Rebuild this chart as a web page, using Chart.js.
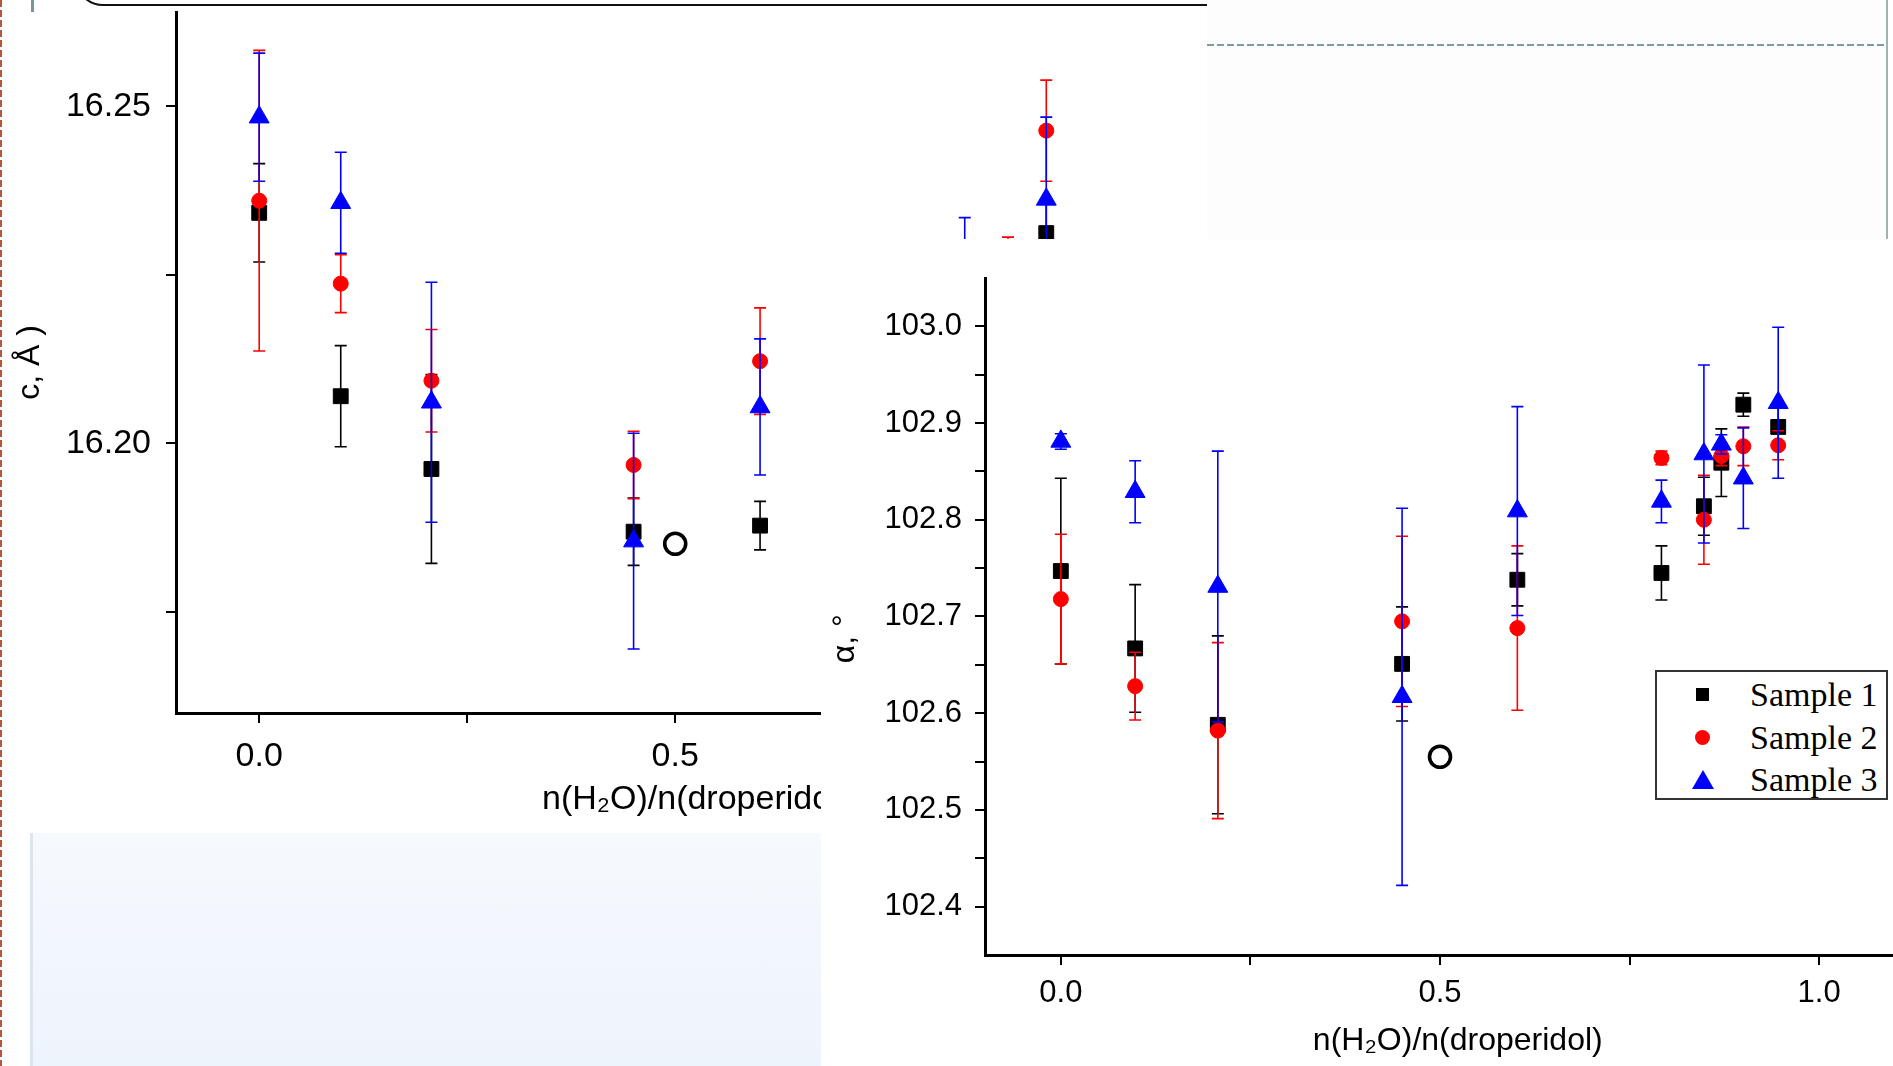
<!DOCTYPE html>
<html>
<head>
<meta charset="utf-8">
<title>c and alpha vs n(H2O)/n(droperidol)</title>
<script src="https://cdn.jsdelivr.net/npm/chart.js@4.4.1/dist/chart.umd.min.js"></script>
<style>
  html, body { margin: 0; padding: 0; width: 1893px; height: 1066px; overflow: hidden; background: #fff; }
  .abs { position: absolute; }
  #leftChart { left: 0; top: 0; }
  #rightChart { left: 821px; top: 239px; background: #fff; }
  #leftEdge { left: 0; top: 0; width: 2px; height: 1066px;
    background: repeating-linear-gradient(to bottom, #b5553b 0 7px, transparent 7px 10px); }
  #topFrame { left: 75px; top: -60px; width: 1766px; height: 62px;
    border: 2.5px solid #111; border-radius: 28px; background: #fff; }
  #topTick { left: 31px; top: 0; width: 3px; height: 12px; background: #7a9595; }
  #greyPanel { left: 1207px; top: 0; width: 680px; height: 239px; background: #fdfdfd; }
  #greyDash { left: 1207px; top: 44px; width: 680px; height: 2px;
    background: repeating-linear-gradient(to right, #7f9c9c 0 7px, transparent 7px 10px); }
  #greyRule { left: 1886px; top: 0; width: 2px; height: 240px; background: #9fb3b3; }
  #bluePanel { left: 30px; top: 833px; width: 791px; height: 233px;
    background: linear-gradient(#f6f9fe, #eef4fc); border-left: 3px solid #dde5ee; }
  #legend { left: 1655px; top: 670px; width: 229px; height: 126px; border: 2px solid #333; background: #fff;
    font-family: 'Liberation Serif', 'Times New Roman', serif; font-size: 34px; color: #000; }
  #legend .row { position: absolute; left: 0; height: 40px; line-height: 40px; }
  #legend .txt { position: absolute; left: 93px; white-space: nowrap; }
  #legend .mk { position: absolute; }
</style>
</head>
<body>
<div id="leftEdge" class="abs"></div>
<canvas id="leftChart" class="abs" width="1216" height="833"></canvas>
<div id="topFrame" class="abs"></div>
<div id="topTick" class="abs"></div>
<div id="greyPanel" class="abs"></div>
<div id="greyDash" class="abs"></div>
<div id="greyRule" class="abs"></div>
<div id="bluePanel" class="abs"></div>
<canvas id="rightChart" class="abs" width="1074" height="827"></canvas>
<div id="legend" class="abs"></div>

<script>
// x values: n(H2O)/n(droperidol)
const ratio = [0, 0.098, 0.207, 0.45, 0.602, 0.792, 0.848, 0.871, 0.9, 0.946];
const seriesNames = ['Sample 1', 'Sample 2', 'Sample 3'];
const seriesColors = ['#000000', '#ff0000', '#0000ff'];

// left panel: c, Å
const cSample1 = [16.2342, 16.2070, 16.1962, 16.1869, 16.1878, 16.212, 16.216, 16.219, 16.222, 16.2312];
const cSample1Err = [0.0073, 0.0075, 0.0140, 0.0050, 0.0036, 0.005, 0.005, 0.005, 0.004, 0.0046];
const cSample2 = [16.2360, 16.2237, 16.2093, 16.1968, 16.2122, 16.214, 16.216, 16.220, 16.222, 16.2464];
const cSample2Err = [0.0223, 0.0043, 0.0076, 0.0050, 0.0079, 0.004, 0.006, 0.005, 0.0086, 0.0075];
const cSample3 = [16.2484, 16.2357, 16.2061, 16.1855, 16.2054, 16.210, 16.222, 16.218, 16.215, 16.2362];
const cSample3Err = [0.0095, 0.0075, 0.0178, 0.0160, 0.0101, 0.008, 0.0115, 0.007, 0.010, 0.0122];
const cOpenX = [0.5];
const cOpenY = [16.1851];

// right panel: alpha, degrees
const aSample1 = [102.747, 102.667, 102.588, 102.651, 102.738, 102.745, 102.814, 102.859, 102.919, 102.896];
const aSample1Err = [0.096, 0.066, 0.092, 0.059, 0.027, 0.028, 0.030, 0.035, 0.012, 0.020];
const aSample2 = [102.718, 102.628, 102.582, 102.695, 102.688, 102.864, 102.800, 102.866, 102.876, 102.877];
const aSample2Err = [0.067, 0.035, 0.091, 0.088, 0.085, 0.007, 0.046, 0.010, 0.020, 0.015];
const aSample3 = [102.881, 102.829, 102.731, 102.617, 102.809, 102.819, 102.868, 102.878, 102.843, 102.921];
const aSample3Err = [0.008, 0.032, 0.140, 0.195, 0.108, 0.022, 0.092, 0.010, 0.052, 0.078];
const aOpenX = [0.5];
const aOpenY = [102.555];

// ticks
const xTicks = [0, 0.25, 0.5, 0.75, 1.0];
const xTickLabels = ['0.0', '', '0.5', '', '1.0'];
const cTicks = [16.175, 16.2, 16.225, 16.25];
const cTickLabels = ['', '16.20', '', '16.25'];
const aTicks = [102.4, 102.45, 102.5, 102.55, 102.6, 102.65, 102.7, 102.75, 102.8, 102.85, 102.9, 102.95, 103.0];
const aTickLabels = ['102.4', '', '102.5', '', '102.6', '', '102.7', '', '102.8', '', '102.9', '', '103.0'];

const SANS = "'Liberation Sans', Arial, sans-serif";
const markerStyles = ['rect', 'circle', 'triangle'];
const markerRadius = [10.5, 7.5, 11.5];

// draws vertical error bars for datasets that carry an "errors" array
const errorBarPlugin = {
    id: 'errorBars',
    beforeDatasetDraw(chart, args) {
        const ds = chart.data.datasets[args.index];
        if (!ds.errors) return;
        const ctx = chart.ctx;
        const yScale = chart.scales.y;
        ctx.save();
        ctx.strokeStyle = ds.borderColor;
        ctx.lineWidth = 1.6;
        args.meta.data.forEach((pt, i) => {
            const v = ds.data[i].y;
            const e = ds.errors[i];
            const yTop = yScale.getPixelForValue(v + e);
            const yBot = yScale.getPixelForValue(v - e);
            ctx.beginPath();
            ctx.moveTo(pt.x, yTop);
            ctx.lineTo(pt.x, yBot);
            ctx.moveTo(pt.x - 6, yTop);
            ctx.lineTo(pt.x + 6, yTop);
            ctx.moveTo(pt.x - 6, yBot);
            ctx.lineTo(pt.x + 6, yBot);
            ctx.stroke();
        });
        ctx.restore();
    }
};

function sampleDataset(k, values, errors) {
    return {
        label: seriesNames[k],
        data: ratio.map((x, i) => ({ x: x, y: values[i] })),
        errors: errors,
        pointStyle: markerStyles[k],
        pointRadius: markerRadius[k],
        pointBackgroundColor: seriesColors[k],
        pointBorderColor: seriesColors[k],
        pointBorderWidth: 1,
        borderColor: seriesColors[k],
        backgroundColor: seriesColors[k],
        order: 3 - k
    };
}

function openDataset(xs, ys) {
    return {
        label: 'open',
        data: xs.map((x, i) => ({ x: x, y: ys[i] })),
        pointStyle: 'circle',
        pointRadius: 10.5,
        pointBackgroundColor: 'rgba(0,0,0,0)',
        pointBorderColor: '#000',
        pointBorderWidth: 3.6,
        order: 0
    };
}

function buildChart(canvasId, o) {
    const canvas = document.getElementById(canvasId);
    if (!canvas) {
        console.error('Canvas not found: ' + canvasId);
        return null;
    }
    return new Chart(canvas.getContext('2d'), {
        type: 'scatter',
        data: { datasets: o.datasets },
        plugins: [errorBarPlugin],
        options: {
            responsive: false,
            animation: false,
            events: [],
            layout: { autoPadding: false, padding: { top: o.padTop, left: 0, right: 0, bottom: 0 } },
            plugins: { legend: { display: false }, tooltip: { enabled: false } },
            scales: {
                x: {
                    type: 'linear',
                    min: o.xMin,
                    max: o.xMax,
                    afterBuildTicks: s => { s.ticks = xTicks.map(v => ({ value: v })); },
                    afterFit: s => { s.height = o.xHeight; s.paddingLeft = 0; s.paddingRight = 0; },
                    ticks: {
                        autoSkip: false, maxRotation: 0, padding: o.xTickPad, color: '#000',
                        font: { family: SANS, size: o.tickSize },
                        callback: (v, i) => xTickLabels[i]
                    },
                    grid: { drawOnChartArea: false, drawTicks: true, tickLength: 10, color: '#000', lineWidth: 2 },
                    border: { display: true, color: '#000', width: 3 },
                    title: {
                        display: true, text: o.xTitle, color: '#000',
                        font: { family: SANS, size: o.xTitleSize },
                        padding: { top: 0, bottom: o.xTitlePad }
                    }
                },
                y: {
                    type: 'linear',
                    min: o.yMin,
                    max: o.yMax,
                    afterBuildTicks: s => { s.ticks = o.yTicks.map(v => ({ value: v })); },
                    afterFit: s => { s.width = o.yWidth; s.paddingTop = 0; s.paddingBottom = 0; },
                    ticks: {
                        autoSkip: false, padding: o.yTickPad, color: '#000',
                        font: { family: SANS, size: o.tickSize },
                        callback: (v, i) => o.yTickLabels[i]
                    },
                    grid: { drawOnChartArea: false, drawTicks: true, tickLength: 10, color: '#000', lineWidth: 2 },
                    border: { display: true, color: '#000', width: 3 },
                    title: {
                        display: true, text: o.yTitle, color: '#000',
                        font: { family: SANS, size: 32 },
                        padding: { top: o.yTitlePad, bottom: 0 }
                    }
                }
            }
        }
    });
}

function buildLegend() {
    const box = document.getElementById('legend');
    const rowTops = [3, 46, 88];
    seriesNames.forEach((name, k) => {
        const row = document.createElement('div');
        row.className = 'row';
        row.style.top = rowTops[k] + 'px';
        row.style.width = '100%';
        const mk = document.createElement('span');
        mk.className = 'mk';
        if (k === 0) {
            Object.assign(mk.style, { left: '39px', top: '13px', width: '13px', height: '13px', background: seriesColors[0] });
        } else if (k === 1) {
            Object.assign(mk.style, { left: '38px', top: '12px', width: '15px', height: '15px', borderRadius: '50%', background: seriesColors[1] });
        } else {
            Object.assign(mk.style, { left: '35px', top: '10px', width: '0', height: '0',
                borderLeft: '11px solid transparent', borderRight: '11px solid transparent',
                borderBottom: '19px solid ' + seriesColors[2] });
        }
        const txt = document.createElement('span');
        txt.className = 'txt';
        txt.textContent = name;
        row.appendChild(mk);
        row.appendChild(txt);
        box.appendChild(row);
    });
}

buildChart('leftChart', {
    datasets: [
        sampleDataset(0, cSample1, cSample1Err),
        sampleDataset(1, cSample2, cSample2Err),
        sampleDataset(2, cSample3, cSample3Err),
        openDataset(cOpenX, cOpenY)
    ],
    xMin: -0.1, xMax: 1.15, yMin: 16.16, yMax: 16.264,
    yTicks: cTicks, yTickLabels: cTickLabels,
    padTop: 12, xHeight: 120, yWidth: 176,
    tickSize: 34, xTickPad: 13, yTickPad: 15,
    xTitle: 'n(H₂O)/n(droperidol)', xTitleSize: 34, xTitlePad: 13,
    yTitle: 'c, Å )', yTitlePad: 11
});

buildChart('rightChart', {
    datasets: [
        sampleDataset(0, aSample1, aSample1Err),
        sampleDataset(1, aSample2, aSample2Err),
        sampleDataset(2, aSample3, aSample3Err),
        openDataset(aOpenX, aOpenY)
    ],
    xMin: -0.1, xMax: 1.1, yMin: 102.35, yMax: 103.05,
    yTicks: aTicks, yTickLabels: aTickLabels,
    padTop: 39, xHeight: 111, yWidth: 164,
    tickSize: 31, xTickPad: 10, yTickPad: 13,
    xTitle: '\u00a0\u00a0\u00a0\u00a0n(H₂O)/n(droperidol)', xTitleSize: 32, xTitlePad: 6,
    yTitle: 'α, °\u00a0\u00a0\u00a0\u00a0\u00a0', yTitlePad: 5
});

buildLegend();
</script>
</body>
</html>
